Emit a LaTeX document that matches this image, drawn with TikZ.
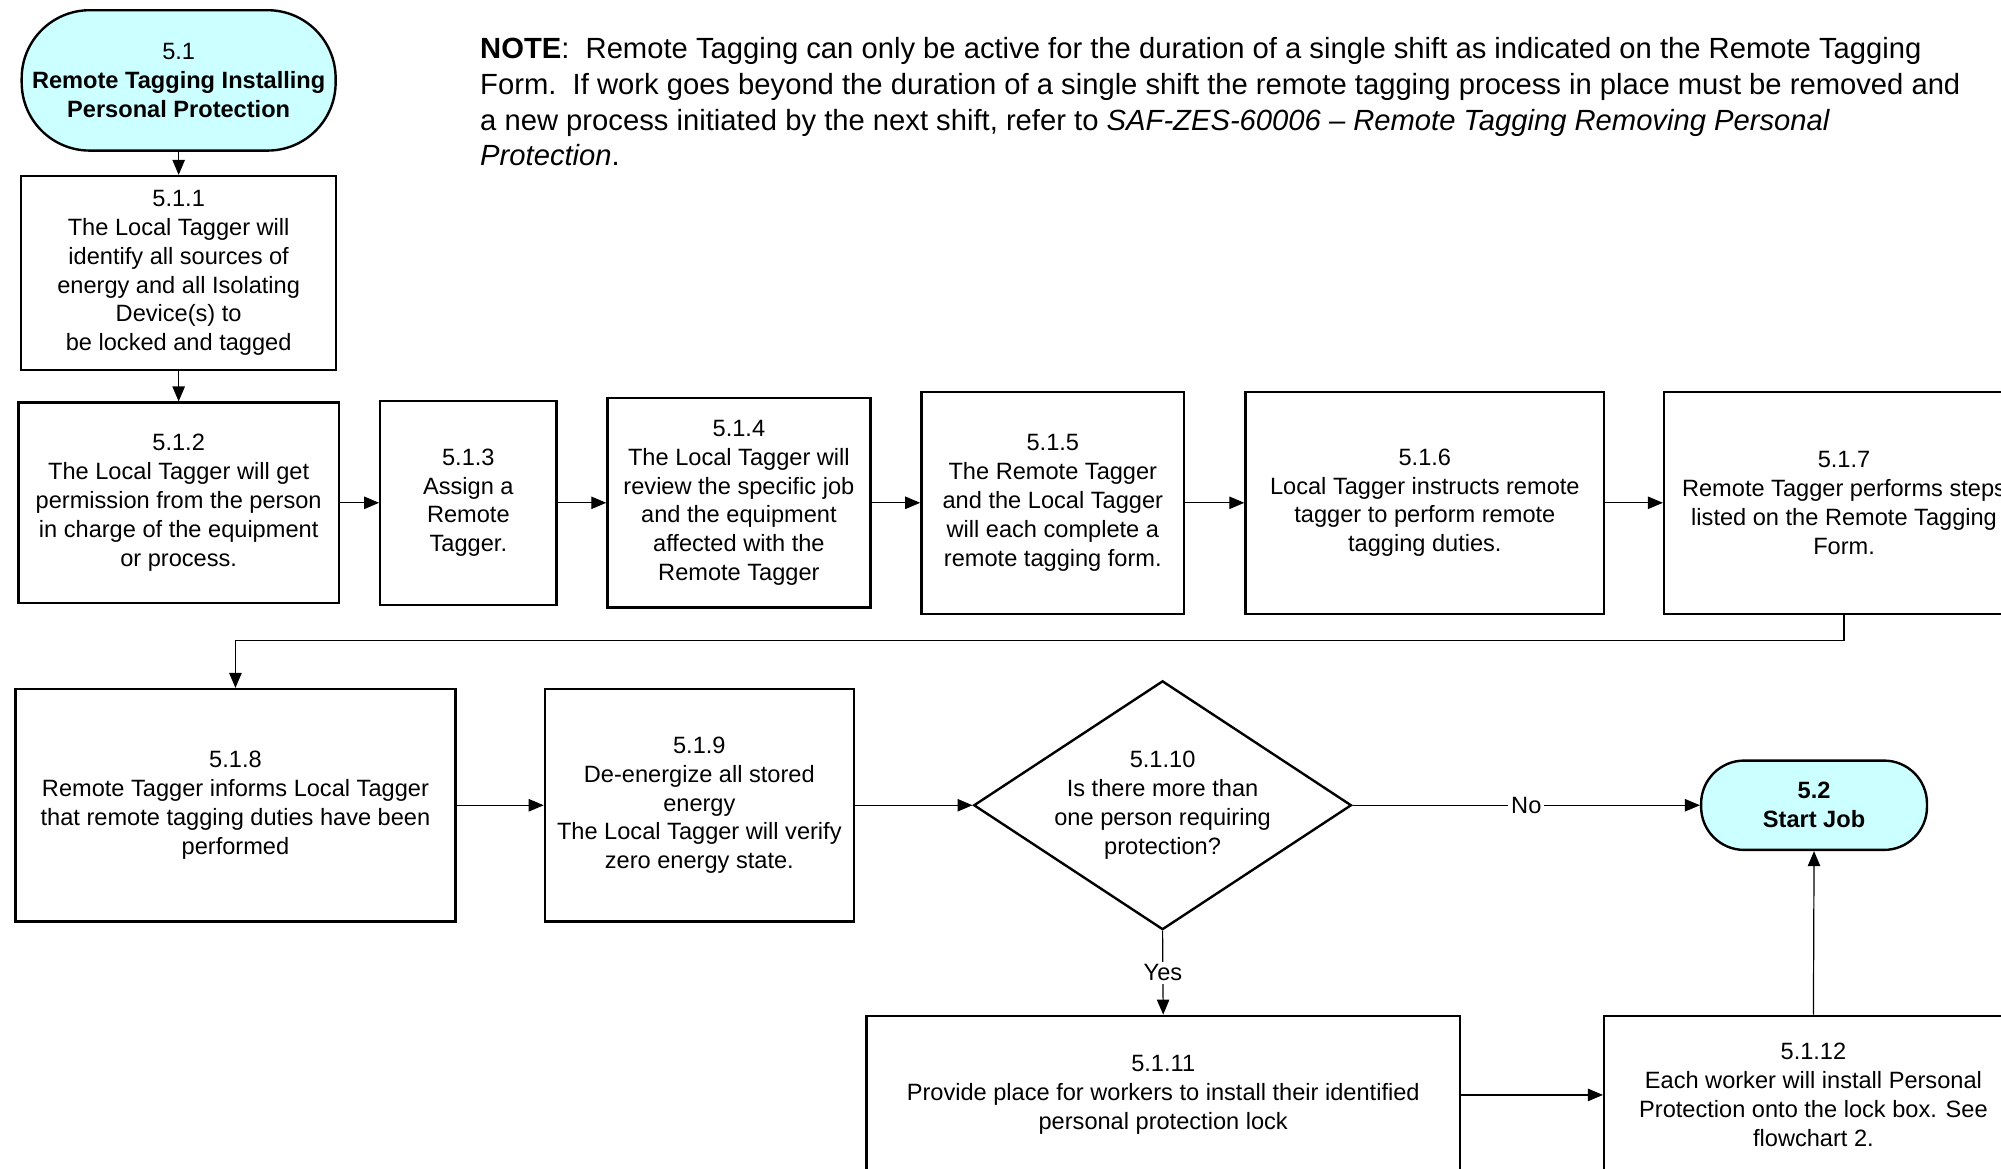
\documentclass[tikz,border=0pt]{standalone}
\usepackage{fontspec}
\setmainfont{Liberation Sans}
\usetikzlibrary{shapes.geometric,arrows.meta}
\definecolor{termfill}{HTML}{CCFFFF}
\def\px{0.6381pt}
\begin{document}
\begin{tikzpicture}[x=0.6381pt,y=-0.6381pt,
  every node/.style={font=\fontsize{11.8}{14.4}\selectfont, align=center, inner sep=0pt},
  proc/.style={draw, line width=1.2pt, rectangle, fill=white},
  term/.style={draw, line width=1.2pt, rectangle, fill=termfill},
  dec/.style={draw, line width=1.2pt, diamond, fill=white},
  notetext/.style={anchor=base west, font=\fontsize{14.6}{17.9}\selectfont},
  arr/.style={line width=0.6pt, -{Triangle[length=7.5pt,width=6.2pt]}},
  lab/.style={fill=white, inner sep=1.5pt}]
\useasboundingbox (0,0) rectangle (1568,916);

% note
\node[notetext] (note1) at (376,46) {\textbf{NOTE}:\ \ Remote Tagging can only be active for the duration of a single shift as indicated on the Remote Tagging};
\node[notetext] (note2) at (376,74) {Form.\ \ If work goes beyond the duration of a single shift the remote tagging process in place must be removed and};
\node[notetext] (note3) at (376,102) {a new process initiated by the next shift, refer to \textit{SAF-ZES-60006 -- Remote Tagging Removing Personal}};
\node[notetext] (note4) at (376,130) {\textit{Protection}.};

% column 1
\node[term, rounded corners=34pt, minimum width=246*\px, minimum height=110*\px] (n51) at (140,63)
  {5.1\\\textbf{Remote Tagging Installing}\\\textbf{Personal Protection}};
\node[proc, minimum width=247*\px, minimum height=152*\px] (n511) at (140,214)
  {5.1.1\\The Local Tagger will\\identify all sources of\\energy and all Isolating\\Device(s) to\\be locked and tagged};

% row 2
\node[proc, minimum width=251*\px, minimum height=157*\px] (n512) at (140,394)
  {5.1.2\\The Local Tagger will get\\permission from the person\\in charge of the equipment\\or process.};
\node[proc, minimum width=138*\px, minimum height=160*\px] (n513) at (367,394)
  {5.1.3\\Assign a\\Remote\\Tagger.};
\node[proc, minimum width=206*\px, minimum height=164*\px] (n514) at (579,394)
  {5.1.4\\The Local Tagger will\\review the specific job\\and the equipment\\affected with the\\Remote Tagger};
\node[proc, minimum width=206*\px, minimum height=174*\px] (n515) at (825,394)
  {5.1.5\\The Remote Tagger\\and the Local Tagger\\will each complete a\\remote tagging form.};
\node[proc, minimum width=281*\px, minimum height=174*\px] (n516) at (1116.5,394)
  {5.1.6\\Local Tagger instructs remote\\tagger to perform remote\\tagging duties.};
\node[proc, minimum width=282*\px, minimum height=174*\px] (n517) at (1445,394)
  {5.1.7\\Remote Tagger performs steps\\listed on the Remote Tagging\\Form.};

% row 3
\node[proc, minimum width=345*\px, minimum height=182*\px] (n518) at (184.5,631)
  {5.1.8\\Remote Tagger informs Local Tagger\\that remote tagging duties have been\\performed};
\node[proc, minimum width=242*\px, minimum height=182*\px] (n519) at (548,631)
  {5.1.9\\De-energize all stored\\energy\\The Local Tagger will verify\\zero energy state.};
\node[dec, minimum width=296*\px, minimum height=195*\px, aspect=1.518] (d5110) at (911,631) {};
\node (t5110) at (911,631) {5.1.10\\Is there more than\\one person requiring\\protection?};
\node[term, rounded corners=21.5pt, minimum width=177*\px, minimum height=70*\px] (n52) at (1421.5,631)
  {\textbf{5.2}\\\textbf{Start Job}};

% row 4
\node[proc, minimum width=465*\px, minimum height=124*\px] (n5111) at (911.5,858)
  {5.1.11\\Provide place for workers to install their identified\\personal protection lock};
\node[proc, minimum width=328*\px, minimum height=124*\px] (n5112) at (1421,858)
  {5.1.12\\Each worker will install Personal\\Protection onto the lock box. See\\flowchart 2.};

\coordinate (bend) at (0,502);

% connectors
\draw[arr] (n51) -- (n511);
\draw[arr] (n511) -- (n512);
\draw[arr] (n512) -- (n513);
\draw[arr] (n513) -- (n514);
\draw[arr] (n514) -- (n515);
\draw[arr] (n515) -- (n516);
\draw[arr] (n516) -- (n517);
\draw[arr] (n517.south) -- (n517.south |- bend) -| (n518.north);
\draw[arr] (n518) -- (n519);
\draw[arr] (n519.east) -- (d5110.west);
\draw[arr] (d5110.east) -- node[lab] (no) {No} (n52.west);
\draw[arr] (d5110.south) -- node[lab] (yes) {Yes} (n5111.north);
\draw[arr] (n5111.east) -- (n5111.east -| n5112.west);
\draw[arr] (n5112.north) -- (n52.south);
\end{tikzpicture}
\end{document}
